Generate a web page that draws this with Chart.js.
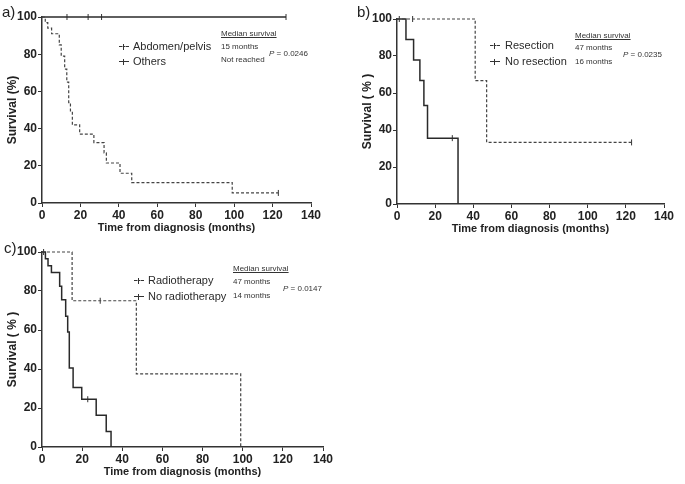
<!DOCTYPE html>
<html>
<head>
<meta charset="utf-8">
<script src="https://cdn.jsdelivr.net/npm/chart.js@4"></script>
<style>
  body { margin: 0; background: #fff; width: 685px; height: 484px; position: relative; overflow: hidden; font-family: "Liberation Sans", Arial, sans-serif; color: #222; }
  canvas { position: absolute; }
  .t { position: absolute; white-space: nowrap; line-height: 1; transform: translateY(-50%); }
  .lab { font-size: 15px; }
  .leg { font-size: 11px; color: #2a2a2a; }
  .small { font-size: 8px; color: #333; }
  .mk { position: absolute; width: 10px; height: 0; border-top: 1.2px solid #333; }
  .mk.d { border-top-style: dashed; }
  .mk::after { content: ""; position: absolute; left: 4px; top: -3.5px; height: 6px; border-left: 1px solid #333; }
</style>
</head>
<body>
<canvas id="ca" width="331" height="235" style="left:0;top:0"></canvas>
<canvas id="cb" width="329" height="236" style="left:355px;top:0"></canvas>
<canvas id="cc" width="343" height="244" style="left:0;top:235px"></canvas>
<script>
// panel a: primary site
const aAbdTime = [0, 1.7, 3, 5, 9, 10, 11.8, 12.9, 13.9, 14.8, 15.8, 19.6, 27, 32.3, 33.5, 40.6, 46.7, 99, 123];
const aAbdSurv = [100, 97, 94, 91, 85, 79, 72, 65, 54, 49.5, 42, 37, 32.5, 27, 21.5, 16, 11, 5.4, 5.4];
const aAbdCensT = [123];
const aAbdCensS = [5.4];
const aOthTime = [0, 127];
const aOthSurv = [100, 100];
const aOthCensT = [13, 24, 31, 127];
const aOthCensS = [100, 100, 100, 100];

// panel b: resection
const bResTime = [0, 41, 47, 123];
const bResSurv = [100, 66.7, 33.3, 33.3];
const bResCensT = [1.2, 8.2, 123];
const bResCensS = [100, 100, 33.3];
const bNoTime = [0, 4.7, 8.7, 12, 14.1, 16, 32];
const bNoSurv = [100, 88.9, 77.8, 66.7, 53.3, 35.6, 0];
const bNoCensT = [29];
const bNoCensS = [35.6];

// panel c: radiotherapy
const cRadTime = [0, 15, 47, 99];
const cRadSurv = [100, 75, 37.5, 0];
const cRadCensT = [29];
const cRadCensS = [75];
const cNoTime = [0, 1.7, 3, 4.7, 8.8, 9.8, 11.8, 12.8, 13.6, 15.5, 19.8, 27, 32, 34.4];
const cNoSurv = [100, 96.5, 93, 89.5, 82.5, 75.5, 67, 59, 40.5, 30.5, 24.5, 16.3, 8, 0];
const cNoCensT = [0.8, 22.8];
const cNoCensS = [100, 24.5];

const xTicks = [0, 20, 40, 60, 80, 100, 120, 140];
const yTicks = [0, 20, 40, 60, 80, 100];

Chart.defaults.font.family = '"Liberation Sans", Arial, sans-serif';
Chart.defaults.color = "#222";

const pts = (xs, ys) => xs.map((x, i) => ({ x: x, y: ys[i] }));

// KM step: stay at old survival until the event time, then drop
function curve(t, s, dashed) {
  return {
    data: pts(t, s), stepped: "before", borderColor: dashed ? "#444" : "#2a2a2a",
    borderWidth: dashed ? 1.2 : 1.5, borderDash: dashed ? [3, 2] : [],
    pointRadius: 0, clip: false, fill: false
  };
}
function censor(t, s) {
  return {
    data: pts(t, s), showLine: false, pointStyle: "line", pointRotation: 90,
    pointRadius: 3, borderColor: "#333", borderWidth: 1, clip: false
  };
}

function km(id, datasets, yTitle, pad) {
  new Chart(document.getElementById(id), {
    type: "line",
    data: { datasets: datasets },
    options: {
      responsive: false, animation: false,
      layout: { padding: pad },
      plugins: { legend: { display: false }, tooltip: { enabled: false } },
      scales: {
        x: {
          type: "linear", min: 0, max: 140,
          afterBuildTicks: sc => { sc.ticks = xTicks.map(v => ({ value: v })); },
          afterFit: sc => { sc.height = 32; },
          ticks: { font: { size: 12, weight: "bold" }, padding: 1, color: "#222" },
          grid: { drawOnChartArea: false, drawTicks: true, tickLength: 4, color: "#333" },
          border: { color: "#333", width: 1.5 },
          title: { display: true, text: "Time from diagnosis (months)", font: { size: 11, weight: "bold" }, padding: 0, color: "#222" }
        },
        y: {
          min: 0, max: 100,
          afterBuildTicks: sc => { sc.ticks = yTicks.map(v => ({ value: v })); },
          afterFit: sc => { sc.width = 42; },
          ticks: { font: { size: 12, weight: "bold" }, padding: 1, color: "#222" },
          grid: { drawOnChartArea: false, drawTicks: true, tickLength: 4, color: "#333" },
          border: { color: "#333", width: 1.5 },
          title: { display: true, text: yTitle, font: { size: 12, weight: "bold" }, padding: { top: 5, bottom: 0 }, color: "#222" }
        }
      }
    }
  });
}

km("ca", [
  curve(aAbdTime, aAbdSurv, true), censor(aAbdCensT, aAbdCensS),
  curve(aOthTime, aOthSurv, false), censor(aOthCensT, aOthCensS)
], "Survival (%)", { left: 0, top: 17, right: 20, bottom: 0 });

km("cb", [
  curve(bResTime, bResSurv, true), censor(bResCensT, bResCensS),
  curve(bNoTime, bNoSurv, false), censor(bNoCensT, bNoCensS)
], "Survival ( % )", { left: 0, top: 19, right: 20, bottom: 0 });

km("cc", [
  curve(cRadTime, cRadSurv, true), censor(cRadCensT, cRadCensS),
  curve(cNoTime, cNoSurv, false), censor(cNoCensT, cNoCensS)
], "Survival ( % )", { left: 0, top: 17, right: 20, bottom: 0 });

// annotations
function txt(cls, x, y, s, extra) {
  const d = document.createElement("div");
  d.className = "t " + cls;
  d.style.left = x + "px"; d.style.top = y + "px";
  d.innerHTML = s;
  if (extra) Object.assign(d.style, extra);
  document.body.appendChild(d);
}
function mark(x, y, dashed) {
  const d = document.createElement("div");
  d.className = "mk" + (dashed ? " d" : "");
  d.style.left = x + "px"; d.style.top = y + "px";
  document.body.appendChild(d);
}

txt("lab", 2, 11, "a)");
mark(119, 46, true); txt("leg", 133, 46, "Abdomen/pelvis");
mark(119, 61, false); txt("leg", 133, 61, "Others");
txt("small", 221, 34, "Median survival", { textDecoration: "underline" });
txt("small", 221, 47, "15 months");
txt("small", 221, 60, "Not reached");
txt("small", 269, 54, "<i>P</i> = 0.0246");

txt("lab", 357, 11, "b)");
mark(490, 45, true); txt("leg", 505, 45, "Resection");
mark(490, 61, false); txt("leg", 505, 61, "No resection");
txt("small", 575, 36, "Median survival", { textDecoration: "underline" });
txt("small", 575, 48, "47 months");
txt("small", 575, 62, "16 months");
txt("small", 623, 55, "<i>P</i> = 0.0235");

txt("lab", 4, 247, "c)");
mark(134, 280, true); txt("leg", 148, 280, "Radiotherapy");
mark(134, 296, false); txt("leg", 148, 296, "No radiotherapy");
txt("small", 233, 269, "Median survival", { textDecoration: "underline" });
txt("small", 233, 282, "47 months");
txt("small", 233, 296, "14 months");
txt("small", 283, 289, "<i>P</i> = 0.0147");
</script>
</body>
</html>
